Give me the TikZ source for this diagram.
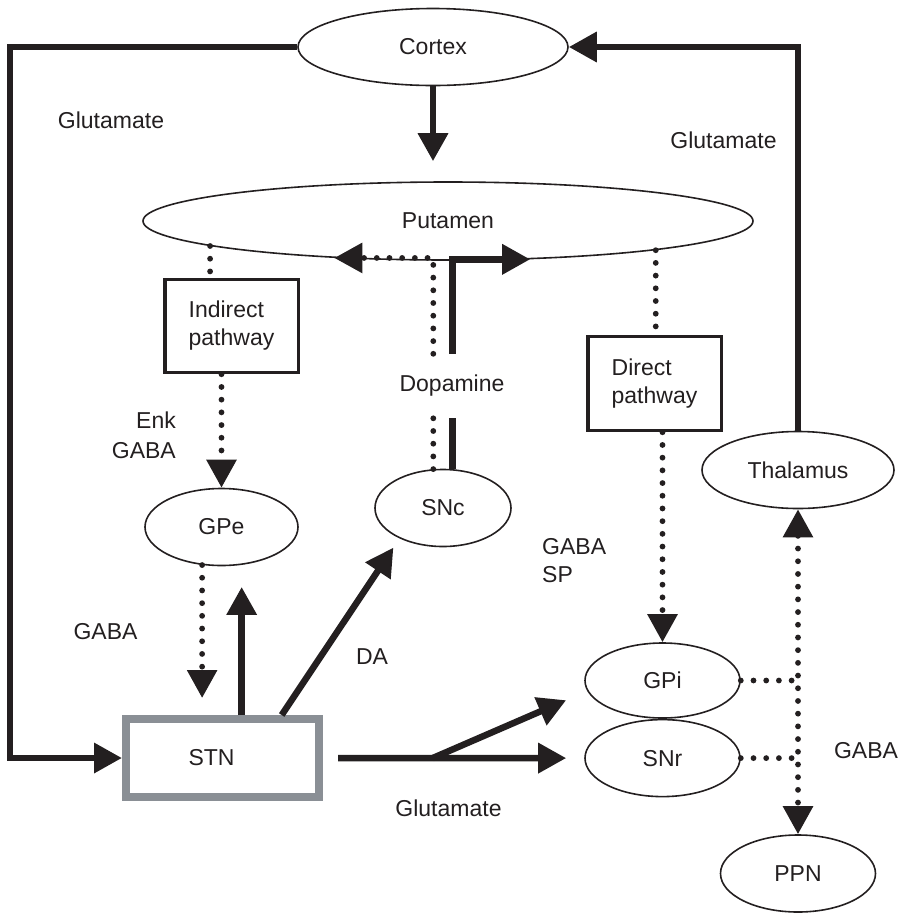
\documentclass[tikz,border=0pt]{standalone}
\usepackage{fontspec}
\setmainfont{Liberation Sans}
\usepackage{xcolor}
\usepackage{tikz}
\usetikzlibrary{shapes,arrows.meta,positioning}
\definecolor{ink}{RGB}{35,31,32}
\definecolor{stngray}{RGB}{138,143,149}

\begin{document}
\begin{tikzpicture}[
    x=1pt, y=-1pt,
    every node/.style={font=\fontsize{23}{28}\selectfont, text=ink},
    region/.style={ellipse, draw=ink, line width=1.6pt, inner sep=0pt, minimum width=155pt, minimum height=77pt},
    pathway/.style={rectangle, draw=ink, line width=3.5pt, inner sep=0pt, minimum width=133.5pt, minimum height=93pt, align=left},
    nucleus/.style={rectangle, draw=stngray, line width=8pt, inner sep=0pt, minimum width=193pt, minimum height=78pt},
    tag/.style={inner sep=0pt},
    axon/.style={draw=ink, line width=6.5pt},
    dotlink/.style={draw=ink, line width=5.8pt, line cap=round, dash pattern=on 0pt off 12.7pt},
    ahead/.style={-{Triangle[length=28pt, width=29pt]}},
    dahead/.style={{Triangle[length=28pt, width=29pt]}-{Triangle[length=28pt, width=29pt]}},
    node distance=0pt
]
    \useasboundingbox (0,0) rectangle (898,914);

    \node[region, minimum width=270pt] (cortex) at (433,47) {Cortex};
    \node[region, minimum width=610pt, minimum height=78pt] (putamen) at (448,221) {Putamen};
    \node[pathway] (indirect) at (231.5,326) {Indirect\\pathway};
    \node[pathway, minimum height=94pt] (direct) at (654.5,383.5) {Direct\\pathway};
    \node[region, minimum width=153pt] (gpe) at (221.5,527) {GPe};
    \node[region, minimum width=136pt] (snc) at (443,508) {SNc};
    \node[region, minimum width=192pt] (thalamus) at (798,470) {Thalamus};
    \node[region, minimum height=75pt] (gpi) at (662.5,680.5) {GPi};
    \node[region, below=of gpi] (snr) {SNr};
    \node[region] (ppn) at (798,873.5) {PPN};
    \node[nucleus] (stn) at (222.5,758) {STN\kern22pt};

    \node[tag] (glutamateL) at (111,120) {Glutamate};
    \node[tag] (glutamateR) at (723.5,140) {Glutamate};
    \node[tag, align=right, anchor=east] (enkgaba) at (176,435) {Enk\\[2pt]GABA};
    \node[tag] (gabaL) at (105.5,632) {GABA};
    \node[tag] (da) at (372,657) {DA};
    \node[tag, align=left, anchor=west] (gabasp) at (542,561) {GABA\\SP};
    \node[tag] (gabaR) at (866,751) {GABA};
    \node[tag] (glutamateB) at (448.5,808) {Glutamate};
    \node[tag, minimum height=64pt] (dopamine) at (452,386) {Dopamine};

    \draw[axon, ahead, shorten >=20pt] (cortex.south) -- (putamen.north -| cortex.south);
    \draw[axon, ahead] (cortex.west) -| ([xshift=-112pt]stn.west) -- (stn.west);
    \draw[axon, ahead] (thalamus.north) |- (cortex.east);

    \draw[dotlink] (putamen.186.6) -- (indirect.north -| putamen.186.6);
    \draw[dotlink, ahead] (indirect.south -| gpe.north) -- (gpe.north);
    \draw[dotlink] (putamen.352.6) -- (direct.north -| putamen.352.6);
    \draw[dotlink, ahead] (direct.south -| gpi.north) -- (gpi.north);

    \draw[dotlink] (snc.104.7) -- (dopamine.south -| snc.104.7);
    \draw[dotlink, ahead] (dopamine.north -| snc.104.7) |- (putamen.198.5);
    \draw[axon] (snc.76.7) -- (dopamine.south -| snc.76.7);
    \draw[axon, ahead] (dopamine.north -| snc.76.7) |- (putamen.335);

    \draw[dotlink, ahead, shorten >=17pt] (gpe.243.7) -- (stn.north -| gpe.243.7);
    \draw[axon, ahead, shorten >=22pt] (stn.north -| gpe.298.8) -- (gpe.298.8);
    \draw[axon, ahead, shorten >=11pt] (stn.36.3) -- (snc.215.5);
    \draw[axon, ahead, shorten <=15pt, shorten >=18pt] (stn.east) -- coordinate[pos=0.42] (fork) (snr.west);
    \draw[axon, ahead, shorten >=23pt] (fork) -- (gpi.188);

    \draw[dotlink] (gpi.east) -- (gpi.east -| thalamus.south);
    \draw[dotlink] (snr.east) -- (snr.east -| thalamus.south);
    \draw[dotlink, dahead] (thalamus.south) -- (ppn.north);
\end{tikzpicture}
\end{document}
